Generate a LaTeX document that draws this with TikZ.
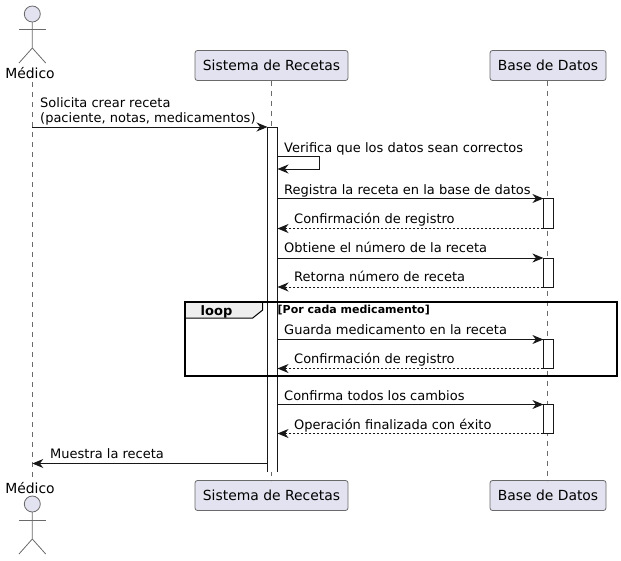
\documentclass[tikz,border=0pt]{standalone}
\usepackage{fontspec}
\setmainfont{DejaVu Sans}
\usepackage{tikz}
\usetikzlibrary{arrows.meta,positioning}
\definecolor{RecetaInk}{HTML}{181818}
\definecolor{RecetaEdge}{HTML}{6A6A6A}
\definecolor{RecetaFill}{HTML}{E2E2F0}
\definecolor{RecetaTab}{HTML}{EEEEEE}

\begin{document}
\begin{tikzpicture}[x=1pt,y=-1pt,
  every node/.style={font=\fontsize{13.9}{16}\selectfont,text=black},
  party/.style={draw=RecetaEdge,line width=.8pt,rounded corners=2.5pt,fill=RecetaFill,minimum height=30pt,inner sep=0pt,outer sep=0pt},
  actorhead/.style={circle,draw=RecetaEdge,line width=.8pt,fill=RecetaFill,minimum size=16pt,inner sep=0pt,outer sep=0pt},
  limb/.style={draw=RecetaEdge,line width=.8pt},
  actorname/.style={inner sep=0pt,outer sep=0pt,text height=11pt,text depth=0pt},
  life/.style={draw=RecetaEdge,line width=.8pt,dash pattern=on 5pt off 5pt},
  activ/.style={draw=RecetaInk,line width=1pt,fill=white,minimum width=10pt,inner sep=0pt,outer sep=0pt},
  msg/.style={draw=RecetaInk,line width=1pt,-{Stealth[length=11pt,width=9pt,inset=3.5pt]}},
  ret/.style={msg,dash pattern=on 2pt off 2pt},
  lbl/.style={anchor=base west,inner sep=0pt,font=\fontsize{13}{15}\selectfont}]
\useasboundingbox (0,0) rectangle (621,560);
% actors
\node[actorhead] (headTop) at (32.3,14) {};
\draw[limb] (headTop.south) -- (32.3,48) -- (19,63);
\draw[limb] (32.3,48) -- (45.7,63);
\draw[limb] (19,29) -- (45.7,29);
\node[actorname,anchor=base] (medicoTop) at (30,78) {Médico};
\node[actorname,anchor=base] (medicoBot) at (30,493) {Médico};
\node[actorhead] (headBot) at (32.3,504) {};
\draw[limb] (headBot.south) -- (32.3,539) -- (19,554);
\draw[limb] (32.3,539) -- (45.7,554);
\draw[limb] (19,520) -- (45.7,520);
% participants
\node[party,minimum width=153pt] (sisTop) at (271.5,65.5) {Sistema de Recetas};
\node[party,minimum width=116pt] (baseTop) at (548,65.5) {Base de Datos};
\node[party,minimum width=153pt] (sisBot) at (271.5,495.5) {Sistema de Recetas};
\node[party,minimum width=116pt] (baseBot) at (548,495.5) {Base de Datos};
% lifelines
\draw[life] (headTop |- medicoTop.south) ++(0,4) -- (headBot |- medicoBot.north);
\draw[life] (271.2,80.5) -- (271.2,480.5);
\draw[life] (547.4,80.5) -- (547.4,480.5);
% activations
\node[fill=white,minimum width=10pt,minimum height=345pt,inner sep=0pt,outer sep=0pt] (sisAct) at (272.5,299.5) {};
\draw[draw=RecetaInk,line width=1pt] (sisAct.south west) -- (sisAct.north west) -- (sisAct.north east) -- (sisAct.south east);
\node[activ,minimum height=30pt] (db1) at (548.4,213.5) {};
\node[activ,minimum height=29pt] (db2) at (548.4,272.5) {};
\node[activ,minimum height=29pt] (db3) at (548.4,354) {};
\node[activ,minimum height=29pt] (db4) at (548.4,419) {};
% loop frame
\draw[draw=black,fill=RecetaTab,line width=1pt] (185.3,301.7) -- (262.7,301.7) -- (262.7,310) -- (252.7,318) -- (185.3,318) -- cycle;
\node[draw=black,line width=1.8pt,minimum width=431.4pt,minimum height=74.6pt,inner sep=0pt] (loopBox) at (401,339) {};
\node[anchor=base,inner sep=0pt,font=\fontsize{13}{16}\selectfont\bfseries] (loopName) at (216.5,315) {loop};
\node[lbl,font=\fontsize{11}{13}\selectfont\bfseries] (loopCond) at (277.5,313) {[Por cada medicamento]};
% messages
\coordinate (start) at (32.3,127);
\draw[msg] (start) -- (sisAct.north west);
\node[lbl] (m1a) at (40,107.5) {Solicita crear receta};
\node[lbl] (m1b) at (40,122) {(paciente, notas, medicamentos)};
\draw[msg] (sisAct.east |- 0,156) -- (319.5,156) -- (319.5,169) -- (sisAct.east |- 0,169);
\node[lbl] (m2) at (284,152) {Verifica que los datos sean correctos};
\draw[msg] (sisAct.east |- db1.north) -- (db1.north west);
\node[lbl] (m3) at (284,194) {Registra la receta en la base de datos};
\draw[ret] (db1.south west) -- (sisAct.east |- db1.south);
\node[lbl] (m4) at (294,223) {Confirmación de registro};
\draw[msg] (sisAct.east |- db2.north) -- (db2.north west);
\node[lbl] (m5) at (284,252) {Obtiene el número de la receta};
\draw[ret] (db2.south west) -- (sisAct.east |- db2.south);
\node[lbl] (m6) at (294,281) {Retorna número de receta};
\draw[msg] (sisAct.east |- db3.north) -- (db3.north west);
\node[lbl] (m7) at (284,334) {Guarda medicamento en la receta};
\draw[ret] (db3.south west) -- (sisAct.east |- db3.south);
\node[lbl] (m8) at (294,363.5) {Confirmación de registro};
\draw[msg] (sisAct.east |- db4.north) -- (db4.north west);
\node[lbl] (m9) at (284,400) {Confirma todos los cambios};
\draw[ret] (db4.south west) -- (sisAct.east |- db4.south);
\node[lbl] (m10) at (294,429) {Operación finalizada con éxito};
\coordinate (finish) at (32.3,463.5);
\draw[msg] (sisAct.west |- finish) -- (finish);
\node[lbl] (m11) at (50,458) {Muestra la receta};
\end{tikzpicture}
\end{document}
